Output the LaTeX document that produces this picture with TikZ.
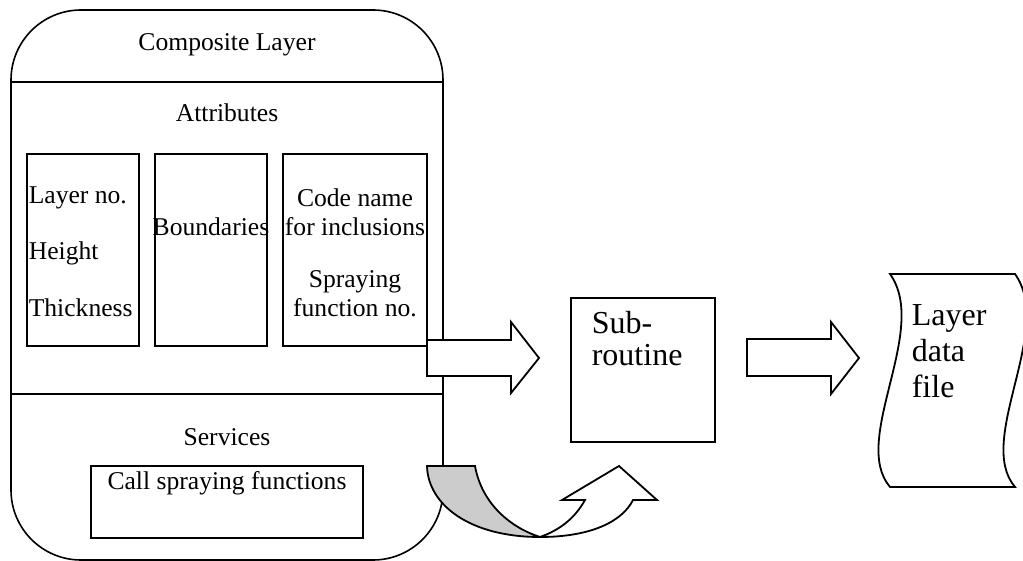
\documentclass[tikz,border=0pt]{standalone}
\usepackage{fontspec}
\setmainfont{Liberation Serif}
\usetikzlibrary{positioning}

\begin{document}
\begin{tikzpicture}[x=0.5pt, y=-0.5pt, line width=0.8pt]
		\tikzset{
			txt/.style = {inner sep=0pt, font=\fontsize{12.8}{14.5}\selectfont},
			bigtxt/.style = {inner sep=0pt, align=left, font=\fontsize{16}{16}\selectfont},
			attrbox/.style = {draw, line width=1pt, minimum height=96pt, inner sep=0pt},
			blockarrow/.style = {draw, fill=white, line width=0.9pt, line join=miter}
		}
		\useasboundingbox (0,0) rectangle (1023,561);
		% composite layer frame
		\draw [rounded corners=35pt] (11,10) rectangle (443,560);
		\draw (11,82) -- (443,82);
		\draw (11,394) -- (443,394);
		\node [txt] (title) at (227,45) {Composite Layer};
		\node [txt] (attr) at (227,113) {Attributes};
		% attribute boxes
		\node [attrbox, minimum width=56pt] (boxA) at (83,250) {};
		\node [attrbox, minimum width=56pt] (boxB) at (211,250) {};
		\node [attrbox, minimum width=72pt] (boxC) at (355,250) {};
		\node [txt, anchor=west] (layerno) at (28,198) {Layer no.};
		\node [txt, anchor=west] (height) at (28,253) {Height};
		\node [txt, anchor=west] (thick) at (28,308) {Thickness};
		\node [txt] (bound) at (211,227) {Boundaries};
		\node [txt, align=center] (code) at (355,212) {Code name\\for inclusions};
		\node [txt, align=center] (spray) at (355,294) {Spraying\\function no.};
		% services
		\node [txt] (serv) at (227,437) {Services};
		\node [draw, line width=1pt, minimum width=136pt, minimum height=36pt, inner sep=0pt] (callbox) at (227,502) {};
		\node [txt, below=3pt of callbox.north] (call) {Call spraying functions};
		% subroutine and data file
		\node [draw, line width=1pt, minimum width=72pt, minimum height=72pt, inner sep=0pt] (sub) at (643,370) {};
		\node [bigtxt, anchor=west] (subtxt) at (591,339) {Sub-\\routine};
		\draw [line width=0.9pt] (890,274) -- (1015,274)
			.. controls (1055,330) and (975,440) .. (1015,487) -- (890,487)
			.. controls (850,440) and (930,330) .. (890,274) -- cycle;
		\node [bigtxt, anchor=west, font=\fontsize{16}{18}\selectfont] (file) at (911,351) {Layer\\data\\file};
		% block arrows
		\draw [blockarrow] (427,340) -- (511,340) -- (511,322) -- (539,358) -- (511,393) -- (511,376) -- (427,376) -- cycle;
		\draw [blockarrow] (747,339) -- (831,339) -- (831,322) -- (859,358) -- (831,394) -- (831,376) -- (747,376) -- cycle;
		% curved arrow
		\draw [fill=black!20, line width=0.9pt] (427,466) -- (475,466) .. controls (482,505) and (512,528) .. (540,537)
			.. controls (470,537) and (428,505) .. (427,466) -- cycle;
		\draw [blockarrow] (540,537) .. controls (590,537) and (622,522) .. (633,500) -- (657,500) -- (619,466)
			-- (562,500) -- (585,500) .. controls (575,518) and (560,530) .. (540,537) -- cycle;
	\end{tikzpicture}
\end{document}
